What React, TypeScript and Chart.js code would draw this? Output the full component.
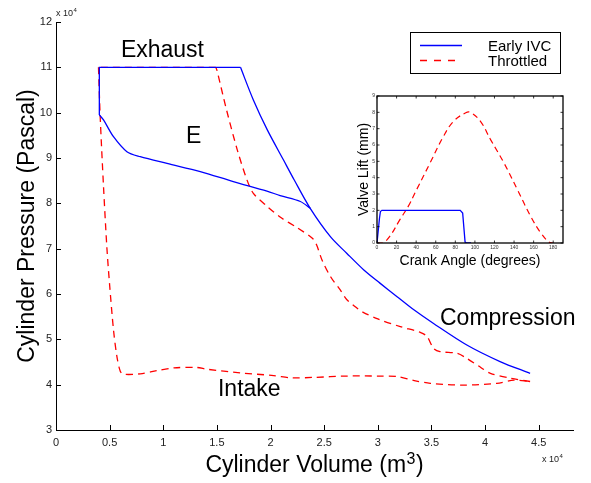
import React, { useEffect, useRef } from "react";
import { Chart, registerables } from "chart.js";
Chart.register(...registerables);

const FONT = '"Liberation Sans", Arial, Helvetica, sans-serif';
const BLUE = "#0000ff";
const RED = "#ff0000";

// ---- Main chart data (volume in x10^4 m^3, pressure in x10^4 Pa) ----
// Early IVC: compression branch (BDC -> exhaust start)
const ivcCompV = [4.42, 4.14, 3.83, 3.52, 3.32, 3.18, 3.02, 2.87, 2.71, 2.56, 2.37, 2.22, 2.12, 1.97, 1.84, 1.72];
const ivcCompP = [4.25, 4.51, 4.875, 5.35, 5.68, 5.94, 6.24, 6.53, 6.9, 7.26, 7.89, 8.52, 8.96, 9.62, 10.28, 11.0];
// Early IVC: exhaust stroke and valve overlap drop
const ivcExhV = [1.72, 0.404, 0.404];
const ivcExhP = [11.0, 11.0, 9.95];
// Early IVC: intake branch up to early valve closing
const ivcIntV = [0.404, 0.443, 0.536, 0.661, 0.785, 1.035, 1.345, 1.653, 1.967, 2.09, 2.278, 2.371];
const ivcIntP = [9.95, 9.84, 9.47, 9.14, 9.03, 8.88, 8.7, 8.48, 8.27, 8.17, 8.04, 7.89];

// Throttled: compression branch
const thrCompV = [4.42, 4.24, 4.05, 3.96, 3.83, 3.74, 3.58, 3.52, 3.46, 3.4, 3.21, 3.0, 2.86, 2.81, 2.71, 2.65, 2.56, 2.48, 2.43, 2.39, 2.25, 2.1, 1.97, 1.84, 1.78, 1.69, 1.59, 1.5, 1.49];
const thrCompP = [4.07, 4.14, 4.25, 4.38, 4.58, 4.69, 4.73, 4.8, 5.06, 5.15, 5.28, 5.45, 5.6, 5.68, 5.88, 6.09, 6.38, 6.75, 7.08, 7.23, 7.46, 7.68, 7.93, 8.22, 8.52, 9.18, 10.06, 10.94, 11.0];
// Throttled: exhaust stroke
const thrExhV = [1.49, 0.396];
const thrExhP = [11.0, 11.0];
// Throttled: intake branch
const thrIntV = [0.396, 0.412, 0.443, 0.475, 0.5, 0.536, 0.568, 0.6, 0.63, 0.785, 0.94, 1.1, 1.31, 1.41, 1.72, 2.03, 2.2, 2.4, 2.71, 3.02, 3.18, 3.34, 3.49, 3.8, 4.11, 4.27, 4.42];
const thrIntP = [11.0, 9.91, 8.37, 7.0, 6.2, 5.21, 4.62, 4.29, 4.23, 4.24, 4.31, 4.37, 4.38, 4.34, 4.26, 4.2, 4.15, 4.16, 4.19, 4.19, 4.18, 4.09, 4.03, 3.99, 4.03, 4.1, 4.07];

// Annotations (data coordinates)
const annoText = ["Exhaust", "E", "Compression", "Intake"];
const annoV = [0.605, 1.212, 3.58, 1.51];
const annoP = [11.22, 9.32, 5.32, 3.75];

const legendLabels = ["Early IVC", "Throttled"];

// ---- Inset data: valve lift (mm) vs crank angle (deg) ----
const liftIvcDeg = [0, 2.5, 3.5, 5, 85, 87.5, 90, 92, 96];
const liftIvcMm = [0, 1.5, 1.93, 2.0, 2.0, 1.84, 0.05, 0, 0];
const liftThrDeg = [0, 6, 13, 23.4, 31.9, 40.5, 54.2, 67.9, 78.2, 90.2, 95.4, 105.7, 116, 129.7, 143.4, 157, 167.4, 176, 180];
const liftThrMm = [0, 0, 0.4, 1.43, 2.24, 3.27, 4.9, 6.53, 7.45, 7.96, 8.0, 7.45, 6.33, 4.9, 3.27, 1.63, 0.61, 0.04, 0];

const pts = (xs: number[], ys: number[]) => xs.map((x, i) => ({ x, y: ys[i] }));

const lineDs = (label: string, data: any, color: string, tension: number, dash?: number[]) => ({
  label,
  data,
  borderColor: color,
  backgroundColor: color,
  borderWidth: 1.3,
  borderDash: dash || [],
  pointRadius: 0,
  showLine: true,
  fill: false,
  tension,
});

function drawExp(ctx: CanvasRenderingContext2D, x: number, base: number) {
  ctx.font = `9px ${FONT}`;
  ctx.textAlign = "left";
  ctx.textBaseline = "alphabetic";
  ctx.fillText("x 10", x, base);
  const w = ctx.measureText("x 10").width;
  ctx.font = `6px ${FONT}`;
  ctx.fillText("4", x + w + 0.5, base - 4);
}

const mainPlugin = {
  id: "mainDecor",
  afterDraw(chart: any) {
    const { ctx, chartArea: a } = chart;
    const xs = chart.scales.x;
    const ys = chart.scales.y;
    ctx.save();
    // inward ticks
    ctx.strokeStyle = "#000";
    ctx.lineWidth = 1;
    ctx.beginPath();
    xs.ticks.forEach((t: any) => {
      const px = Math.round(xs.getPixelForValue(t.value)) + 0.5;
      ctx.moveTo(px, a.bottom);
      ctx.lineTo(px, a.bottom - 5);
    });
    ys.ticks.forEach((t: any) => {
      const py = Math.round(ys.getPixelForValue(t.value)) + 0.5;
      ctx.moveTo(a.left, py);
      ctx.lineTo(a.left + 5, py);
    });
    ctx.stroke();

    // annotations
    ctx.fillStyle = "#000";
    ctx.font = `23px ${FONT}`;
    ctx.textAlign = "left";
    ctx.textBaseline = "alphabetic";
    annoText.forEach((s, i) => ctx.fillText(s, xs.getPixelForValue(annoV[i]), ys.getPixelForValue(annoP[i])));

    // exponent labels
    ctx.fillStyle = "#222";
    drawExp(ctx, a.left, a.top - 6.5);
    drawExp(ctx, a.right - 31, a.bottom + 32);

    // x axis title with superscript
    ctx.fillStyle = "#000";
    const t1 = "Cylinder Volume (m";
    const t2 = "3";
    const t3 = ")";
    ctx.font = `23px ${FONT}`;
    const w1 = ctx.measureText(t1).width;
    const w3 = ctx.measureText(t3).width;
    ctx.font = `16px ${FONT}`;
    const w2 = ctx.measureText(t2).width;
    const cx = (a.left + a.right) / 2;
    const base = a.bottom + 42;
    const sx = cx - (w1 + w2 + w3 + 1) / 2;
    ctx.font = `23px ${FONT}`;
    ctx.fillText(t1, sx, base);
    ctx.font = `16px ${FONT}`;
    ctx.fillText(t2, sx + w1 + 0.5, base - 8);
    ctx.font = `23px ${FONT}`;
    ctx.fillText(t3, sx + w1 + w2 + 1, base);

    // y axis title
    ctx.save();
    ctx.translate(28, (a.top + a.bottom) / 2);
    ctx.rotate(-Math.PI / 2);
    ctx.textAlign = "center";
    ctx.textBaseline = "middle";
    ctx.font = `23px ${FONT}`;
    ctx.fillText("Cylinder Pressure (Pascal)", 0, 0);
    ctx.restore();

    // legend box
    const lx = 410.5, ly = 32.5, lw = 150, lh = 41;
    ctx.fillStyle = "#fff";
    ctx.fillRect(lx, ly, lw, lh);
    ctx.strokeStyle = "#000";
    ctx.lineWidth = 1;
    ctx.strokeRect(lx, ly, lw, lh);
    const colors = [BLUE, RED];
    const rowsY = [45.5, 60.5];
    legendLabels.forEach((lab, i) => {
      ctx.strokeStyle = colors[i];
      ctx.lineWidth = 1.4;
      ctx.setLineDash(i === 1 ? [7, 7] : []);
      ctx.beginPath();
      ctx.moveTo(420, rowsY[i]);
      ctx.lineTo(462, rowsY[i]);
      ctx.stroke();
      ctx.setLineDash([]);
      ctx.fillStyle = "#000";
      ctx.font = `15px ${FONT}`;
      ctx.textAlign = "left";
      ctx.textBaseline = "alphabetic";
      ctx.fillText(lab, 488, rowsY[i] + 5);
    });
    ctx.restore();
  },
};

const insetPlugin = {
  id: "insetDecor",
  afterDraw(chart: any) {
    const { ctx, chartArea: a } = chart;
    const xs = chart.scales.x;
    const ys = chart.scales.y;
    ctx.save();
    ctx.strokeStyle = "#000";
    ctx.lineWidth = 1.3;
    ctx.strokeRect(a.left, a.top, a.right - a.left, a.bottom - a.top);
    ctx.lineWidth = 0.8;
    ctx.beginPath();
    xs.ticks.forEach((t: any) => {
      const px = xs.getPixelForValue(t.value);
      ctx.moveTo(px, a.bottom);
      ctx.lineTo(px, a.bottom - 2.5);
      ctx.moveTo(px, a.top);
      ctx.lineTo(px, a.top + 2.5);
    });
    ys.ticks.forEach((t: any) => {
      const py = ys.getPixelForValue(t.value);
      ctx.moveTo(a.left, py);
      ctx.lineTo(a.left + 2.5, py);
      ctx.moveTo(a.right, py);
      ctx.lineTo(a.right - 2.5, py);
    });
    ctx.stroke();

    ctx.fillStyle = "#000";
    ctx.font = `14px ${FONT}`;
    ctx.textAlign = "center";
    ctx.textBaseline = "alphabetic";
    ctx.fillText("Crank Angle (degrees)", (a.left + a.right) / 2, a.bottom + 22);
    ctx.save();
    ctx.translate(a.left - 13, (a.top + a.bottom) / 2);
    ctx.rotate(-Math.PI / 2);
    ctx.textBaseline = "middle";
    ctx.fillText("Valve Lift (mm)", 0, 0);
    ctx.restore();
    ctx.restore();
  },
};

function MainChart() {
  const ref = useRef<HTMLCanvasElement | null>(null);
  useEffect(() => {
    if (!ref.current) return;
    const tickFont = { family: FONT, size: 11 };
    const chart = new Chart(ref.current, {
      type: "scatter",
      data: {
        datasets: [
          lineDs("Early IVC", pts(ivcCompV, ivcCompP), BLUE, 0.3),
          lineDs("Early IVC exhaust", pts(ivcExhV, ivcExhP), BLUE, 0),
          lineDs("Early IVC intake", pts(ivcIntV, ivcIntP), BLUE, 0.3),
          lineDs("Throttled", pts(thrCompV, thrCompP), RED, 0.3, [7, 5]),
          lineDs("Throttled exhaust", pts(thrExhV, thrExhP), RED, 0, [7, 5]),
          lineDs("Throttled intake", pts(thrIntV, thrIntP), RED, 0.3, [7, 5]),
        ] as any,
      },
      options: {
        animation: false,
        responsive: false,
        events: [],
        layout: { padding: { top: 22, right: 18, left: 0, bottom: 0 } },
        plugins: { legend: { display: false }, tooltip: { enabled: false } },
        scales: {
          x: {
            type: "linear",
            min: 0,
            max: 4.82,
            grid: { display: false, drawTicks: false, tickLength: 0 },
            border: { display: true, color: "#000", width: 1 },
            ticks: {
              stepSize: 0.5,
              includeBounds: false,
              autoSkip: false,
              maxRotation: 0,
              font: tickFont,
              color: "#222",
              padding: 6,
              callback: (v: any) => String(+(+v).toFixed(2)),
            },
            afterFit: (s: any) => {
              s.height = 53;
            },
          },
          y: {
            type: "linear",
            min: 3,
            max: 12,
            grid: { display: false, drawTicks: false, tickLength: 0 },
            border: { display: true, color: "#000", width: 1 },
            ticks: {
              stepSize: 1,
              autoSkip: false,
              font: tickFont,
              color: "#222",
              padding: 4,
              callback: (v: any) => String(+(+v).toFixed(2)),
            },
            afterFit: (s: any) => {
              s.width = 56;
            },
          },
        },
      } as any,
      plugins: [mainPlugin],
    });
    return () => chart.destroy();
  }, []);
  return <canvas ref={ref} width={591} height={483} style={{ position: "absolute", left: 0, top: 0 }} />;
}

function InsetChart() {
  const ref = useRef<HTMLCanvasElement | null>(null);
  useEffect(() => {
    if (!ref.current) return;
    const tickFont = { family: FONT, size: 5 };
    const chart = new Chart(ref.current, {
      type: "scatter",
      data: {
        datasets: [
          { ...lineDs("Early IVC", pts(liftIvcDeg, liftIvcMm), BLUE, 0), borderWidth: 1.3 },
          { ...lineDs("Throttled", pts(liftThrDeg, liftThrMm), RED, 0.4, [6, 4]), borderWidth: 1.2 },
        ] as any,
      },
      options: {
        animation: false,
        responsive: false,
        events: [],
        layout: { padding: { top: 8, right: 17, left: 0, bottom: 0 } },
        plugins: { legend: { display: false }, tooltip: { enabled: false } },
        scales: {
          x: {
            type: "linear",
            min: 0,
            max: 190,
            grid: { display: false, drawTicks: false, tickLength: 0 },
            border: { display: false },
            ticks: { stepSize: 20, includeBounds: false, autoSkip: false, maxRotation: 0, font: tickFont, color: "#333", padding: 2 },
            afterFit: (s: any) => {
              s.height = 30;
            },
          },
          y: {
            type: "linear",
            min: 0,
            max: 9,
            grid: { display: false, drawTicks: false, tickLength: 0 },
            border: { display: false },
            ticks: { stepSize: 1, autoSkip: false, font: tickFont, color: "#333", padding: 2 },
            afterFit: (s: any) => {
              s.width = 37;
            },
          },
        },
      } as any,
      plugins: [insetPlugin],
    });
    return () => chart.destroy();
  }, []);
  return <canvas ref={ref} width={240} height={185} style={{ position: "absolute", left: 340, top: 88 }} />;
}

export default function App() {
  return (
    <div style={{ position: "fixed", left: 0, top: 0, width: 591, height: 483, background: "#fff", overflow: "hidden" }}>
      <MainChart />
      <InsetChart />
    </div>
  );
}
